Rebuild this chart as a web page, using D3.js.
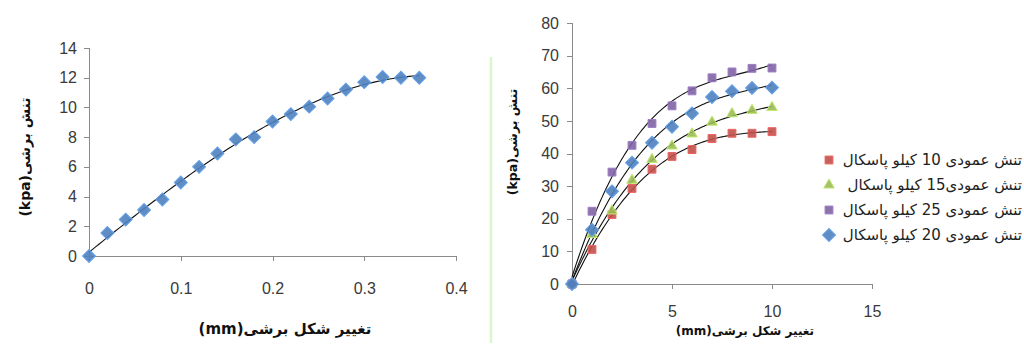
<!DOCTYPE html>
<html>
<head>
<meta charset="utf-8">
<script src="https://cdn.jsdelivr.net/npm/d3@7"></script>
<style>
  body { margin: 0; background: #fff; }
  svg { display: block; }
  .axis path, .axis line { stroke: #8a8a8a; shape-rendering: crispEdges; }
  .axis text { font-family: "Liberation Sans", Arial, sans-serif; font-size: 16px; fill: #3a3a3a; }
  .title { font-family: "DejaVu Sans", sans-serif; font-weight: bold; fill: #111; }
  .legend text { font-family: "DejaVu Sans", sans-serif; font-size: 15px; fill: #222; }
</style>
</head>
<body>
<div id="chart"></div>
<script>
// left chart: one series
const leftX = [0, 0.02, 0.04, 0.06, 0.08, 0.1, 0.12, 0.14, 0.16, 0.18, 0.2, 0.22, 0.24, 0.26, 0.28, 0.3, 0.32, 0.34, 0.36];
const leftY = [0, 1.55, 2.45, 3.1, 3.8, 4.95, 6.0, 6.9, 7.85, 8.0, 9.05, 9.55, 10.05, 10.6, 11.2, 11.7, 12.05, 12.0, 12.0];
const leftXTicks = [0, 0.1, 0.2, 0.3, 0.4];
const leftXLabels = ['0', '0.1', '0.2', '0.3', '0.4'];
const leftYTicks = [0, 2, 4, 6, 8, 10, 12, 14];

// right chart: four normal stresses
const rightX = [0, 1, 2, 3, 4, 5, 6, 7, 8, 9, 10];
const s10 = [0, 10.6, 21.3, 29.3, 35.2, 39.1, 41.2, 44.6, 46.2, 46.2, 46.7];
const s15 = [0, 15.2, 22.4, 31.8, 38.2, 42.3, 46.0, 49.6, 52.2, 53.2, 54.1];
const s25 = [0, 22.3, 34.3, 42.5, 49.2, 54.6, 59.2, 63.2, 65.0, 66.1, 66.2];
const s20 = [0, 16.6, 28.4, 37.2, 43.3, 48.2, 52.3, 57.3, 59.1, 60.1, 60.2];
const rightXTicks = [0, 5, 10, 15];
const rightYTicks = [0, 10, 20, 30, 40, 50, 60, 70, 80];
const legendNames = ['تنش عمودی 10 کیلو پاسکال', 'تنش عمودی15 کیلو پاسکال', 'تنش عمودی 25 کیلو پاسکال', 'تنش عمودی 20 کیلو پاسکال'];

const W = 1024, H = 347;

const svg = d3.select('#chart').append('svg')
  .attr('width', W)
  .attr('height', H);

// least squares polynomial (the Excel trendline)
const polyFit = (xs, ys, deg) => {
  const n = deg + 1;
  const A = d3.range(n).map(() => new Array(n + 1).fill(0));
  xs.forEach((x, k) => {
    for (let i = 0; i < n; i++) {
      for (let j = 0; j < n; j++) A[i][j] += Math.pow(x, i + j);
      A[i][n] += ys[k] * Math.pow(x, i);
    }
  });
  for (let i = 0; i < n; i++) {
    let p = i;
    for (let r = i + 1; r < n; r++) if (Math.abs(A[r][i]) > Math.abs(A[p][i])) p = r;
    [A[i], A[p]] = [A[p], A[i]];
    for (let r = 0; r < n; r++) {
      if (r === i) continue;
      const f = A[r][i] / A[i][i];
      for (let c = i; c <= n; c++) A[r][c] -= f * A[i][c];
    }
  }
  const coef = A.map((row, i) => row[n] / row[i]);
  return x => coef.reduce((s, c, i) => s + c * Math.pow(x, i), 0);
};

const trend = (g, x, y, xs, ys, deg) => {
  const f = polyFit(xs, ys, deg);
  const pts = d3.range(0, 101).map(i => {
    const t = xs[0] + (xs[xs.length - 1] - xs[0]) * i / 100;
    return [t, f(t)];
  });
  g.append('path')
    .attr('d', d3.line().x(d => x(d[0])).y(d => y(d[1]))(pts))
    .attr('fill', 'none')
    .attr('stroke', '#111')
    .attr('stroke-width', 1.1);
};

const markers = (g, x, y, xs, ys, shape, color) => {
  let sym, rot = 0;
  if (shape === 'diamond') { sym = d3.symbol(d3.symbolSquare, 84); rot = 45; }
  else if (shape === 'square') sym = d3.symbol(d3.symbolSquare, 62);
  else sym = d3.symbol(d3.symbolTriangle, 48);
  g.selectAll(null)
    .data(xs.map((d, i) => [d, ys[i]]))
    .enter()
    .append('path')
    .attr('d', sym)
    .attr('transform', d => `translate(${x(d[0])},${y(d[1])}) rotate(${rot})`)
    .attr('fill', color)
    .attr('fill-opacity', 0.9)
    .attr('stroke', d3.color(color).brighter(0.6))
    .attr('stroke-width', 1);
};

// ---------- left chart ----------
const xL = d3.scaleLinear().domain([0, 0.4]).range([89, 456]);
const yL = d3.scaleLinear().domain([0, 14]).range([256, 48]);

svg.append('g')
  .attr('class', 'axis')
  .attr('transform', `translate(0,${yL(0)})`)
  .call(d3.axisBottom(xL).tickValues(leftXTicks).tickFormat((d, i) => leftXLabels[i]).tickSizeOuter(0).tickSize(5).tickPadding(22));

svg.append('g')
  .attr('class', 'axis')
  .attr('transform', `translate(${xL(0)},0)`)
  .call(d3.axisLeft(yL).tickValues(leftYTicks).tickSizeOuter(0).tickSize(5).tickPadding(7));

const gL = svg.append('g');
trend(gL, xL, yL, leftX, leftY, 3);
markers(gL, xL, yL, leftX, leftY, 'diamond', '#4F81BD');

svg.append('text')
  .attr('class', 'title')
  .attr('direction', 'rtl')
  .attr('text-anchor', 'middle')
  .attr('x', 285)
  .attr('y', 334)
  .attr('font-size', 15)
  .text('تغییر  شکل برشی(mm)');

svg.append('text')
  .attr('class', 'title')
  .attr('direction', 'rtl')
  .attr('text-anchor', 'middle')
  .attr('transform', 'translate(30,157) rotate(-90)')
  .attr('font-size', 14)
  .text('تنش برشی(kpa)');

// faint separator line
svg.append('line')
  .attr('x1', 491).attr('x2', 491)
  .attr('y1', 57).attr('y2', 343)
  .attr('stroke', '#d9f7cc')
  .attr('stroke-width', 2.5);

// ---------- right chart ----------
const xR = d3.scaleLinear().domain([0, 15]).range([572, 872]);
const yR = d3.scaleLinear().domain([0, 80]).range([284, 23]);

svg.append('g')
  .attr('class', 'axis')
  .attr('transform', `translate(0,${yR(0)})`)
  .call(d3.axisBottom(xR).tickValues(rightXTicks).tickSizeOuter(0).tickSize(5).tickPadding(17));

svg.append('g')
  .attr('class', 'axis')
  .attr('transform', `translate(${xR(0)},0)`)
  .call(d3.axisLeft(yR).tickValues(rightYTicks).tickSizeOuter(0).tickSize(5).tickPadding(8));

const series = [
  {vals: s10, shape: 'square', color: '#C0504D'},
  {vals: s15, shape: 'triangle', color: '#9BBB59'},
  {vals: s25, shape: 'square', color: '#8064A2'},
  {vals: s20, shape: 'diamond', color: '#4F81BD'}
];

const gR = svg.append('g');
series.forEach(s => trend(gR, xR, yR, rightX, s.vals, 3));
series.forEach(s => markers(gR, xR, yR, rightX, s.vals, s.shape, s.color));

svg.append('text')
  .attr('class', 'title')
  .attr('direction', 'rtl')
  .attr('text-anchor', 'middle')
  .attr('x', 745)
  .attr('y', 335)
  .attr('font-size', 12)
  .text('تغییر شکل برشی(mm)');

svg.append('text')
  .attr('class', 'title')
  .attr('direction', 'rtl')
  .attr('text-anchor', 'middle')
  .attr('transform', 'translate(517,142) rotate(-90)')
  .attr('font-size', 12.5)
  .text('تنش برشی(kpa)');

// legend
const leg = svg.append('g').attr('class', 'legend');
const legItems = leg.selectAll('g')
  .data(series)
  .enter()
  .append('g')
  .attr('transform', (d, i) => `translate(0,${160 + i * 25})`);

legItems.each(function (d, i) {
  const g = d3.select(this);
  markers(g, v => v, v => v, [829], [0], d.shape, d.color);
  g.append('text')
    .attr('x', 1022)
    .attr('y', 5)
    .attr('direction', 'rtl')
    .attr('text-anchor', 'start')
    .text(legendNames[i]);
});
</script>
</body>
</html>
